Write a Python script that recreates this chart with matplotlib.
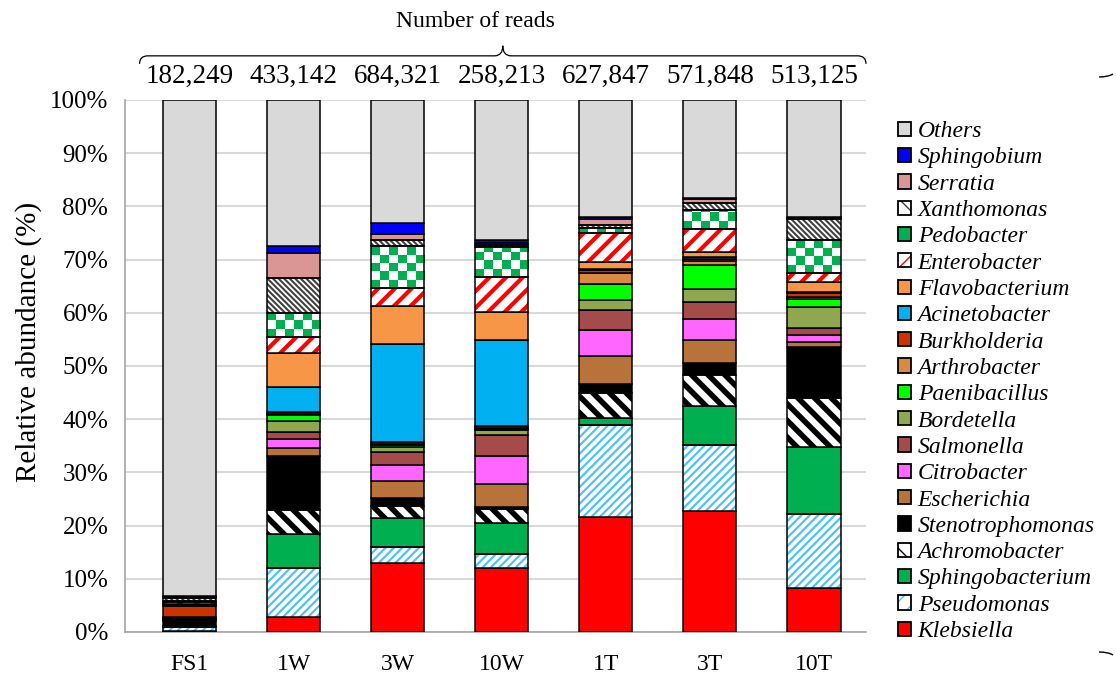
import numpy as np
import matplotlib
matplotlib.use("Agg")
import matplotlib.pyplot as plt
from matplotlib.colors import to_rgb
from matplotlib.patches import Patch, PathPatch
from matplotlib.path import Path as MPath
from matplotlib.legend_handler import HandlerTuple
from matplotlib.transforms import blended_transform_factory

plt.rcParams.update({
    "font.family": ["Liberation Serif", "DejaVu Serif"],
    "font.size": 17,
})

samples = ["FS1", "1W", "3W", "10W", "1T", "3T", "10T"]
read_counts = ["182,249", "433,142", "684,321", "258,213", "627,847", "571,848", "513,125"]

# relative abundance (%) per genus, one value per sample (stacked bottom -> top)
klebsiella = [0.1, 2.8, 13.0, 12.0, 21.6, 22.8, 8.2]
pseudomonas = [0.8, 9.2, 3.0, 2.7, 17.3, 12.3, 14.0]
sphingobacterium = [0.1, 6.4, 5.5, 5.7, 1.3, 7.4, 12.6]
achromobacter = [0.2, 4.5, 2.1, 2.8, 4.8, 5.8, 9.1]
stenotrophomonas = [0.8, 10.2, 1.5, 0.3, 1.6, 2.3, 9.7]
escherichia = [0.1, 1.5, 3.3, 4.3, 5.3, 4.2, 1.0]
citrobacter = [0.1, 1.7, 2.9, 5.3, 4.9, 4.0, 1.3]
salmonella = [0.2, 1.3, 2.6, 3.9, 3.7, 3.3, 1.3]
bordetella = [0.1, 2.1, 0.9, 1.0, 1.9, 2.4, 3.8]
paenibacillus = [0.1, 1.1, 0.3, 0.2, 3.1, 4.4, 1.6]
arthrobacter = [0.2, 0.2, 0.3, 0.2, 1.9, 0.8, 0.4]
burkholderia = [2.0, 0.4, 0.4, 0.4, 0.6, 0.5, 0.7]
acinetobacter = [0.3, 4.7, 18.3, 16.0, 0.2, 0.2, 0.3]
flavobacterium = [0.2, 6.3, 7.2, 5.4, 1.4, 1.0, 1.8]
enterobacter = [0.3, 3.0, 3.3, 6.5, 5.4, 4.4, 1.7]
pedobacter = [0.3, 4.6, 8.0, 5.6, 0.9, 3.5, 6.1]
xanthomonas = [0.5, 6.5, 1.0, 0.5, 0.6, 1.3, 4.0]
serratia = [0.2, 4.8, 1.3, 0.4, 1.2, 0.7, 0.3]
sphingobium = [0.2, 1.3, 2.0, 0.5, 0.3, 0.3, 0.2]
others = [93.2, 27.4, 23.1, 26.3, 22.0, 18.4, 21.9]

genera = ["Klebsiella", "Pseudomonas", "Sphingobacterium", "Achromobacter",
          "Stenotrophomonas", "Escherichia", "Citrobacter", "Salmonella",
          "Bordetella", "Paenibacillus", "Arthrobacter", "Burkholderia",
          "Acinetobacter", "Flavobacterium", "Enterobacter", "Pedobacter",
          "Xanthomonas", "Serratia", "Sphingobium", "Others"]
abundance = dict(zip(genera, [
    klebsiella, pseudomonas, sphingobacterium, achromobacter, stenotrophomonas,
    escherichia, citrobacter, salmonella, bordetella, paenibacillus,
    arthrobacter, burkholderia, acinetobacter, flavobacterium, enterobacter,
    pedobacter, xanthomonas, serratia, sphingobium, others]))

# fill style per genus: solid colour, hatch (pattern, colour, line width) or checker
styles = {
    "Klebsiella": {"color": "#FF0000"},
    "Pseudomonas": {"hatch": "////", "color": "#4FC3F7", "lw": 1.6},
    "Sphingobacterium": {"color": "#00B050"},
    "Achromobacter": {"hatch": "\\\\", "color": "black", "lw": 4.0},
    "Stenotrophomonas": {"color": "#000000"},
    "Escherichia": {"color": "#B8733A"},
    "Citrobacter": {"color": "#FF66FF"},
    "Salmonella": {"color": "#A64B4B"},
    "Bordetella": {"color": "#8FA74F"},
    "Paenibacillus": {"color": "#00FF00"},
    "Arthrobacter": {"color": "#D88A42"},
    "Burkholderia": {"color": "#CC3300"},
    "Acinetobacter": {"color": "#00B0F0"},
    "Flavobacterium": {"color": "#F79646"},
    "Enterobacter": {"hatch": "//", "color": "#FF0000", "lw": 3.0},
    "Pedobacter": {"checker": True, "color": "#00B050"},
    "Xanthomonas": {"hatch": "\\\\\\\\\\\\", "color": "#404040", "lw": 1.5},
    "Serratia": {"color": "#D99694"},
    "Sphingobium": {"color": "#0000FF"},
    "Others": {"color": "#D9D9D9"},
}


def add_checker(ax, rect, color, cell_h=1.55, ncols=6):
    x0, y0 = rect.get_x(), rect.get_y()
    w, h = rect.get_width(), rect.get_height()
    if h <= 0:
        return
    nrows = int(np.ceil(h / cell_h))
    ii, jj = np.indices((nrows, ncols))
    img = np.ones((nrows, ncols, 3))
    img[(ii + jj) % 2 == 0] = to_rgb(color)
    im = ax.imshow(img, extent=(x0, x0 + w, y0, y0 + nrows * cell_h),
                   origin="lower", interpolation="nearest", aspect="auto",
                   zorder=3.2)
    im.set_clip_path(rect)


fig = plt.figure(figsize=(11.16, 6.73), dpi=100)
ax = fig.add_axes([125 / 1116, 41 / 673, 741 / 1116, 532 / 673])

x = np.arange(len(samples))
width = 0.51
bottom = np.zeros(len(samples))
handles = {}
for name in genera:
    vals = np.array(abundance[name], dtype=float)
    st = styles[name]
    if "hatch" in st:
        with plt.rc_context({"hatch.linewidth": st["lw"]}):
            hb = ax.bar(x, vals, width, bottom=bottom, color="white",
                        edgecolor=st["color"], hatch=st["hatch"],
                        linewidth=0, zorder=3)
        for r in hb:
            if hasattr(r, "set_hatch_linewidth"):
                r.set_hatch_linewidth(st["lw"])
        ax.bar(x, vals, width, bottom=bottom, fill=False,
               edgecolor="black", linewidth=1.1, zorder=4)
        with plt.rc_context({"hatch.linewidth": st["lw"] * 0.6}):
            hp = Patch(facecolor="white", edgecolor=st["color"],
                       hatch=st["hatch"][:2], linewidth=0)
        handles[name] = (hp, Patch(fill=False, edgecolor="black", linewidth=1.3))
    elif st.get("checker"):
        bars = ax.bar(x, vals, width, bottom=bottom, color="white",
                      edgecolor="none", zorder=3)
        for r in bars:
            add_checker(ax, r, st["color"])
        ax.bar(x, vals, width, bottom=bottom, fill=False,
               edgecolor="black", linewidth=1.1, zorder=4)
        handles[name] = Patch(facecolor=st["color"], edgecolor="black", linewidth=1.3)
    else:
        ax.bar(x, vals, width, bottom=bottom, color=st["color"],
               edgecolor="black", linewidth=1.1, zorder=3)
        handles[name] = Patch(facecolor=st["color"], edgecolor="black", linewidth=1.3)
    bottom += vals

ax.set_xlim(-0.62, 6.5)
ax.set_ylim(0, 100)
ax.set_yticks(np.arange(0, 101, 10))
ax.set_yticklabels([f"{v}%" for v in range(0, 101, 10)], fontsize=18)
ax.set_xticks(x)
ax.set_xticklabels(samples)
ax.tick_params(axis="x", length=0, pad=16)
ax.tick_params(axis="y", length=0, pad=12)
ax.yaxis.grid(True, color="#D9D9D9", linewidth=1.5, zorder=0)
ax.set_axisbelow(True)
for side in ["top", "right"]:
    ax.spines[side].set_visible(False)
ax.spines["left"].set_color("#A6A6A6")
ax.spines["bottom"].set_color("#A6A6A6")
ax.spines["left"].set_linewidth(1.2)
ax.spines["bottom"].set_linewidth(1.2)
ax.set_ylabel("Relative abundance (%)", fontsize=21)
ax.yaxis.set_label_coords(-0.112, 0.545)

# read counts above each bar and the brace that groups them
trans = blended_transform_factory(ax.transData, ax.transAxes)
for xi, txt in zip(x, read_counts):
    ax.text(xi, 1.045, txt, transform=trans, ha="center", va="center",
            fontsize=19.5)

xl, xr = -0.48, 6.5
xm = (xl + xr) / 2
yb, yl, yt = 1.068, 1.083, 1.102
c = 0.08
verts = [(xl, yb), (xl, yl), (xl + c, yl), (xl + c, yl),
         (xm - c, yl), (xm, yl), (xm, yt),
         (xm, yl), (xm + c, yl), (xr - c, yl),
         (xr - c, yl), (xr, yl), (xr, yb)]
codes = [MPath.MOVETO, MPath.CURVE3, MPath.CURVE3, MPath.LINETO,
         MPath.LINETO, MPath.CURVE3, MPath.CURVE3,
         MPath.CURVE3, MPath.CURVE3, MPath.LINETO,
         MPath.LINETO, MPath.CURVE3, MPath.CURVE3]
ax.add_patch(PathPatch(MPath(verts, codes), transform=trans, fill=False,
                       edgecolor="black", linewidth=0.9, clip_on=False))
ax.text(xm - 0.26, 1.147, "Number of reads", transform=trans, ha="center",
        va="center", fontsize=17)

# ends of the bracket on the right edge of the figure
for y0, y1 in [(596 / 673, 599 / 673), (21 / 673, 18 / 673)]:
    p = MPath([(1099 / 1116, y0), (1108 / 1116, y0), (1113 / 1116, y1)],
              [MPath.MOVETO, MPath.CURVE3, MPath.CURVE3])
    fig.patches.append(PathPatch(p, transform=fig.transFigure, fill=False,
                                 edgecolor="black", linewidth=1.0))

order = genera[::-1]
leg = ax.legend([handles[n] for n in order], order,
                loc="upper left", bbox_to_anchor=(1.03, 0.978),
                frameon=False, handler_map={tuple: HandlerTuple(ndivide=1, pad=0)},
                handlelength=0.55, handleheight=0.55, handletextpad=0.3,
                labelspacing=0.225, borderaxespad=0.0,
                prop={"style": "italic", "size": 17})

fig.savefig("out.png", dpi=100)
